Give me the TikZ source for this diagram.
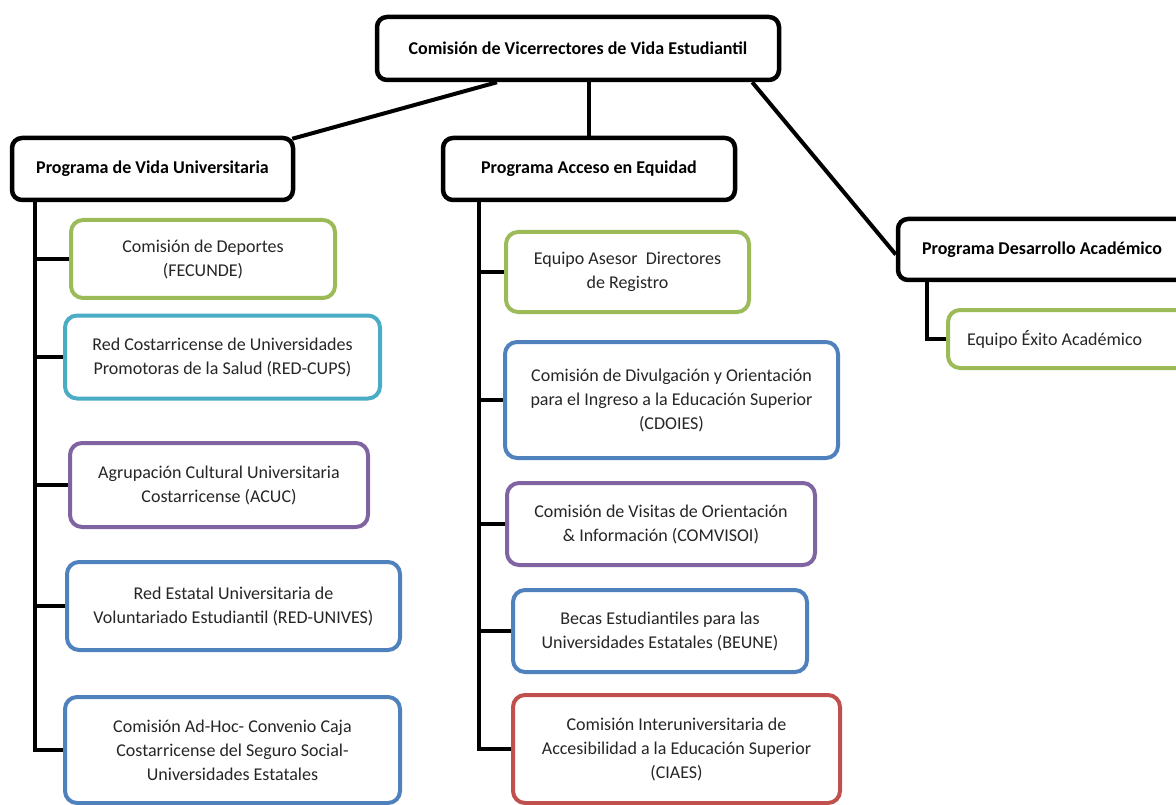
\documentclass[tikz,border=0pt]{standalone}
\usepackage{fontspec}
\setmainfont{Carlito}
\usepackage{tikz}
\usetikzlibrary{positioning}
\definecolor{cvgreen}{RGB}{155,187,89}
\definecolor{cvcyan}{RGB}{75,172,198}
\definecolor{cvpurple}{RGB}{128,100,162}
\definecolor{cvblue}{RGB}{79,129,189}
\definecolor{cvred}{RGB}{192,80,77}
\definecolor{cvtext}{RGB}{38,38,38}
\tikzstyle{link} = [line width=4pt, color=black]
\tikzstyle{programa} = [rectangle, rounded corners=10pt, draw=black, line width=4.5pt, fill=white, text centered, align=center, font=\fontsize{18}{22}\selectfont\bfseries]
\tikzstyle{comision} = [rectangle, rounded corners=12pt, line width=4pt, fill=white, text centered, align=center, text=cvtext, font=\fontsize{18}{24}\selectfont]

\begin{document}
\begin{tikzpicture}[x=1pt, y=-1pt]
    \useasboundingbox (0,0) rectangle (1176,805);
    \clip (0,0) rectangle (1176,805);

    % Top
    \node[programa, minimum width=402pt, minimum height=63pt] (vice) at (578,48.5) {Comisión de Vicerrectores de Vida Estudiantil};

    % Programas
    \node[programa, minimum width=281pt, minimum height=62pt] (pvu) at (152.5,169) {Programa de Vida Universitaria};
    \node[programa, minimum width=292pt, minimum height=62pt] (pae) at (589,169) {Programa Acceso en Equidad};
    \node[programa, minimum width=288pt, minimum height=61pt] (pda) at (1042,249.5) {Programa Desarrollo Académico};

    % Vida Universitaria
    \node[comision, draw=cvgreen, minimum width=264pt, minimum height=78pt] (fecunde) at (203,259) {Comisión de Deportes\\(FECUNDE)};
    \node[comision, draw=cvcyan, minimum width=315pt, minimum height=83pt] (redcups) at (222.5,357) {Red Costarricense de Universidades\\Promotoras de la Salud (RED-CUPS)};
    \node[comision, draw=cvpurple, minimum width=298pt, minimum height=84pt] (acuc) at (219,485) {Agrupación Cultural Universitaria\\Costarricense (ACUC)};
    \node[comision, draw=cvblue, minimum width=333pt, minimum height=88pt] (unives) at (233.5,606) {Red Estatal Universitaria de\\Voluntariado Estudiantil (RED-UNIVES)};
    \node[comision, draw=cvblue, minimum width=335pt, minimum height=106pt] (adhoc) at (232.5,750) {Comisión Ad-Hoc- Convenio Caja\\Costarricense del Seguro Social-\\Universidades Estatales};

    % Acceso en Equidad
    \node[comision, draw=cvgreen, minimum width=243pt, minimum height=80pt] (registro) at (627.5,272) {Equipo Asesor~ Directores\\de Registro};
    \node[comision, draw=cvblue, minimum width=333pt, minimum height=116pt] (cdoies) at (671.5,400) {Comisión de Divulgación y Orientación\\para el Ingreso a la Educación Superior\\(CDOIES)};
    \node[comision, draw=cvpurple, minimum width=308pt, minimum height=82pt] (comvisoi) at (661,524) {Comisión de Visitas de Orientación\\\& Información (COMVISOI)};
    \node[comision, draw=cvblue, minimum width=294pt, minimum height=82pt] (beune) at (660,631) {Becas Estudiantiles para las\\Universidades Estatales (BEUNE)};
    \node[comision, draw=cvred, minimum width=327pt, minimum height=108pt] (ciaes) at (676.5,749) {Comisión Interuniversitaria de\\Accesibilidad a la Educación Superior\\(CIAES)};

    % Desarrollo Academico
    \node[comision, draw=cvgreen, anchor=west, text width=222pt, align=flush left, inner xsep=19pt, minimum height=58pt] (exito) at (946,339) {Equipo Éxito Académico};

    % Links
    \draw[link] ([xshift=-81pt]vice.south) -- ([xshift=-3pt, yshift=-3pt]pvu.north east);
    \draw[link] (pae.north) -- (pae.north |- vice.south);
    \draw[link] ([xshift=-29pt]vice.south east) -- ([yshift=-5pt]pda.west);

    \coordinate (lt) at (35,200);
    \coordinate (mt) at (479,200);
    \coordinate (rt) at (927,280);
    \draw[link] (lt) |- (adhoc.west);
    \foreach \n in {fecunde,redcups,acuc,unives}
        \draw[link] (lt |- \n.west) -- (\n.west);
    \draw[link] (mt) |- (ciaes.west);
    \foreach \n in {registro,cdoies,comvisoi,beune}
        \draw[link] (mt |- \n.west) -- (\n.west);
    \draw[link] (rt) |- (exito.west);
\end{tikzpicture}
\end{document}
